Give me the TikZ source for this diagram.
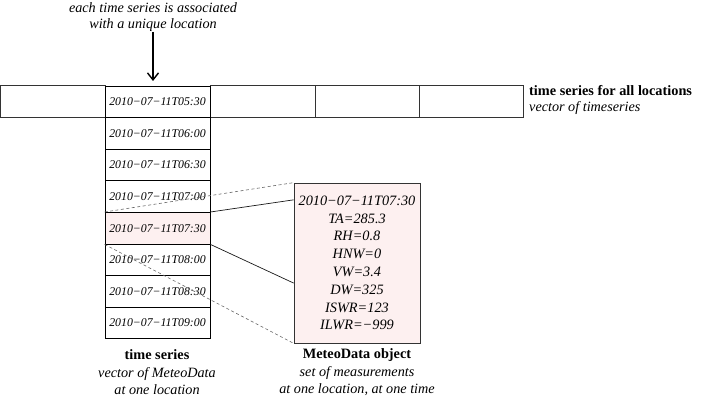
\documentclass[tikz,border=0pt]{standalone}
\usepackage{fontspec}
\setmainfont{Liberation Serif}
\usetikzlibrary{arrows.meta,calc}
\definecolor{pinkfill}{RGB}{253,240,240}
\begin{document}
\begin{tikzpicture}[x=1pt,y=-1pt,
  cell/.style={draw=black!80,line width=0.7pt,minimum width=105pt,minimum height=31.6pt,inner sep=0pt,font=\fontsize{11.8}{12}\selectfont\itshape},
  colcell/.style={cell,draw=black,line width=0.8pt},
  hl/.style={fill=pinkfill},
  dashlink/.style={draw=black!60,dash pattern=on 3pt off 2.5pt,line width=0.6pt},
  solidlink/.style={draw=black!90,line width=0.7pt},
  boldlbl/.style={font=\fontsize{14.3}{17}\selectfont\bfseries,inner sep=0pt},
  itlbl/.style={font=\fontsize{14.2}{17}\selectfont\itshape,inner sep=0pt,align=center}]
\useasboundingbox (0,0) rectangle (714,403);
% top row
\node[cell] (b1) at (52.5,101.5) {};
\node[cell,minimum width=105pt] (b3) at (262.5,101.5) {};
\node[cell,minimum width=104pt] (b4) at (367,101.5) {};
\node[cell,minimum width=104pt] (b5) at (471,101.5) {};
% column
\node[colcell] (r1) at (157.5,101.8) {2010−07−11T05:30};
\node[colcell] (r2) at (157.5,133.4) {2010−07−11T06:00};
\node[colcell] (r3) at (157.5,165.0) {2010−07−11T06:30};
\node[colcell] (r4) at (157.5,196.6) {2010−07−11T07:00};
\node[colcell,hl] (r5) at (157.5,228.2) {2010−07−11T07:30};
\node[colcell] (r6) at (157.5,259.8) {2010−07−11T08:00};
\node[colcell] (r7) at (157.5,291.4) {2010−07−11T08:30};
\node[colcell] (r8) at (157.5,323.0) {2010−07−11T09:00};
% meteo box
\node[draw=black!80,line width=0.7pt,fill=pinkfill,minimum width=126pt,minimum height=160pt,inner sep=0pt,align=center,
  font=\fontsize{14.3}{17.8}\selectfont\itshape] (m) at (357,263)
  {2010−07−11T07:30\\TA=285.3\\RH=0.8\\HNW=0\\VW=3.4\\DW=325\\ISWR=123\\ILWR=−999};
% top annotation
\node[itlbl,font=\fontsize{14.2}{15.5}\selectfont\itshape] (note) at (153,17) {each time series is associated\\with a unique location};
\coordinate (arrs) at (153,32);
\coordinate (arre) at (153,86);
\draw[line width=1.4pt,shorten >=5pt,-{Straight Barb[length=7pt,width=11pt,line width=1.4pt]}] (arrs) -- (arre);
% right label
\node[boldlbl,anchor=west] (tall) at (529,91) {time series for all locations};
\node[itlbl,anchor=west] (tallv) at (529,108) {vector of timeseries};
% bottom labels
\node[boldlbl] (ts) at (157,355) {time series};
\node[itlbl] (tsv) at (157,381.5) {vector of MeteoData\\at one location};
\node[boldlbl] (md) at (357,355) {MeteoData object};
\node[itlbl] (mdv) at (357,381.5) {set of measurements\\at one location, at one time};
% links
\draw[dashlink] (r5.north west) -- (m.north west);
\draw[dashlink] (r5.south west) -- (m.south west);
\draw[solidlink] (r5.north east) -- ($(m.north west)!0.107!(m.south west)$);
\draw[solidlink] (r5.south east) -- ($(m.north west)!0.625!(m.south west)$);
\end{tikzpicture}
\end{document}
